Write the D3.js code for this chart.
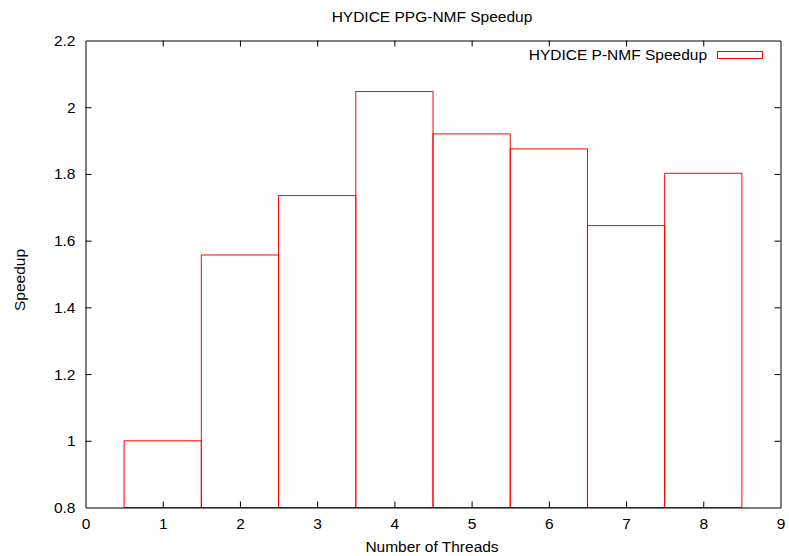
<!DOCTYPE html>
<html>
<head>
<meta charset="utf-8">
<script src="https://cdn.jsdelivr.net/npm/d3@7"></script>
<style>
  body { margin: 0; background: #fff; }
  text { font-family: "Liberation Sans", Arial, sans-serif; font-size: 15.5px; fill: #000; }
</style>
</head>
<body>
<svg id="chart" width="789" height="556"></svg>
<script>
// data
var threads = [1, 2, 3, 4, 5, 6, 7, 8];
var speedup = [1.0, 1.557, 1.735, 2.047, 1.92, 1.875, 1.645, 1.802];
var xTicks = [0, 1, 2, 3, 4, 5, 6, 7, 8, 9];
var yTicks = [0.8, 1, 1.2, 1.4, 1.6, 1.8, 2, 2.2];

var svg = d3.select("#chart");
var plotLeft = 85.5, plotRight = 780.5, plotTop = 40.5, plotBottom = 507.5;

var x = d3.scaleLinear().domain([0, 9]).range([plotLeft, plotRight]);
var y = d3.scaleLinear().domain([0.8, 2.2]).range([plotBottom, plotTop]);

// bars (outline only)
svg.append("g").selectAll("rect")
  .data(threads)
  .enter().append("rect")
  .attr("x", function(d) { return x(d - 0.5); })
  .attr("width", function(d) { return x(d + 0.5) - x(d - 0.5); })
  .attr("y", function(d, i) { return y(speedup[i]); })
  .attr("height", function(d, i) { return plotBottom - y(speedup[i]); })
  .attr("fill", "none")
  .attr("stroke", "#ff0000")
  .attr("stroke-width", 1);

// axes, ticks pointing inward, mirrored on top/right
var tl = 6;
svg.append("g").attr("transform", "translate(0," + plotBottom + ")")
  .call(d3.axisBottom(x).tickValues(xTicks).tickSizeInner(-tl).tickSizeOuter(0).tickPadding(10).tickFormat(d3.format("d")));
svg.append("g").attr("transform", "translate(0," + plotTop + ")")
  .call(d3.axisTop(x).tickValues(xTicks).tickSizeInner(-tl).tickSizeOuter(0).tickFormat(""));
svg.append("g").attr("transform", "translate(" + plotLeft + ",0)")
  .call(d3.axisLeft(y).tickValues(yTicks).tickSizeInner(-tl).tickSizeOuter(0).tickPadding(10).tickFormat(function(d) { return d3.format("~g")(d); }));
svg.append("g").attr("transform", "translate(" + plotRight + ",0)")
  .call(d3.axisRight(y).tickValues(yTicks).tickSizeInner(-tl).tickSizeOuter(0).tickFormat(""));

svg.selectAll(".domain").attr("stroke", "#000").attr("stroke-width", 1);
svg.selectAll(".tick line").attr("stroke", "#000");
svg.selectAll(".tick text").style("font-size", "15.5px").attr("fill", "#000");
svg.selectAll(".tick").filter(function(d) { return d === 0.8 || d === 2.2 || d === 0 || d === 9; })
  .select("line").remove();

// title and axis labels
svg.append("text").attr("x", 432).attr("y", 22).attr("text-anchor", "middle")
  .text("HYDICE PPG-NMF Speedup");
svg.append("text").attr("x", 432).attr("y", 552).attr("text-anchor", "middle")
  .text("Number of Threads");
svg.append("text").attr("transform", "translate(25,280) rotate(-90)").attr("text-anchor", "middle")
  .text("Speedup");

// legend
svg.append("text").attr("x", 707).attr("y", 60).attr("text-anchor", "end")
  .text("HYDICE P-NMF Speedup");
svg.append("rect").attr("x", 717.5).attr("y", 51.5).attr("width", 45).attr("height", 7)
  .attr("fill", "none").attr("stroke", "#ff0000");
</script>
</body>
</html>
